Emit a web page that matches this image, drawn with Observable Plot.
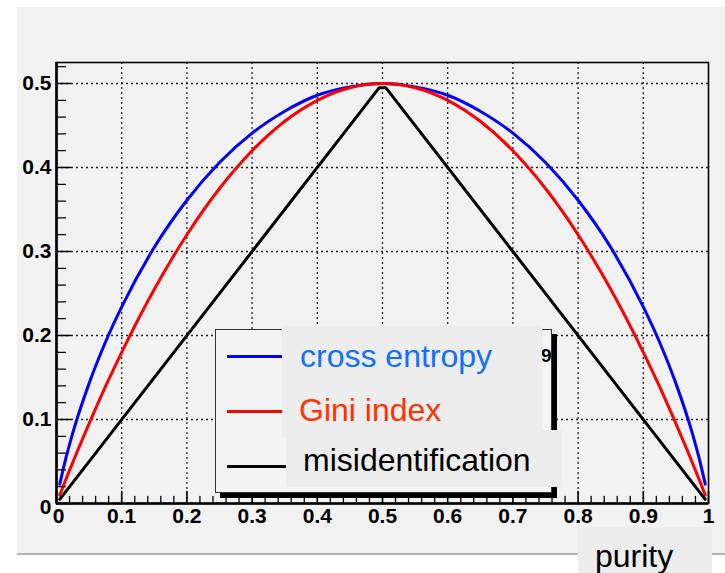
<!DOCTYPE html>
<html><head><meta charset="utf-8">
<script src="https://cdn.jsdelivr.net/npm/d3@7"></script>
<script src="https://cdn.jsdelivr.net/npm/@observablehq/plot@0.6"></script>
<style>
body{margin:0;background:#fff;width:725px;height:573px;overflow:hidden;position:relative;font-family:"Liberation Sans",Arial,sans-serif;}
#bg{position:absolute;left:17px;top:7px;width:708px;height:548px;background:#f2f2f2;border-bottom:2px solid #b4b4b4;box-sizing:border-box;}
#chart{position:absolute;left:17px;top:7px;}
.a{position:absolute;white-space:nowrap;line-height:1;}
</style></head><body>
<div id="bg"></div><div id="chart"></div><div id="overlay"></div>
<script>
// purity sample positions
const purity = [0.005, 0.0125, 0.025, 0.05, 0.075, 0.1, 0.15, 0.2, 0.25, 0.3, 0.35, 0.4, 0.45, 0.5,
  0.55, 0.6, 0.65, 0.7, 0.75, 0.8, 0.85, 0.9, 0.925, 0.95, 0.975, 0.9875, 0.995];
const crossEntropy = [0.023, 0.048, 0.084, 0.143, 0.192, 0.234, 0.305, 0.361, 0.406, 0.441, 0.467, 0.486, 0.496, 0.5,
  0.496, 0.486, 0.467, 0.441, 0.406, 0.361, 0.305, 0.234, 0.192, 0.143, 0.084, 0.048, 0.023];
const giniIndex = [0.010, 0.025, 0.049, 0.095, 0.139, 0.18, 0.255, 0.32, 0.375, 0.42, 0.455, 0.48, 0.495, 0.5,
  0.495, 0.48, 0.455, 0.42, 0.375, 0.32, 0.255, 0.18, 0.139, 0.095, 0.049, 0.025, 0.010];
const misPurity = [0.005, 0.495, 0.505, 0.995];
const misidentification = [0.005, 0.495, 0.495, 0.005];

const xTicks = [0, 0.1, 0.2, 0.3, 0.4, 0.5, 0.6, 0.7, 0.8, 0.9, 1];
const xTickLabels = ["0", "0.1", "0.2", "0.3", "0.4", "0.5", "0.6", "0.7", "0.8", "0.9", "1"];
const yTicks = [0, 0.1, 0.2, 0.3, 0.4, 0.5];
const yTickLabels = ["0", "0.1", "0.2", "0.3", "0.4", "0.5"];
const legendLabels = ["cross entropy", "Gini index", "misidentification"];
const lineColors = ["#0000ff", "#ff0000", "#000000"];
const textColors = ["#1070ff", "#ff3300", "#000000"];
const axisTitle = "purity";

const entropyData = purity.map((p, i) => ({p, v: crossEntropy[i]}));
const giniData = purity.map((p, i) => ({p, v: giniIndex[i]}));
const misData = misPurity.map((p, i) => ({p, v: misidentification[i]}));

const xMinor = d3.range(0, 1.0001, 0.02).filter(v => Math.abs(v * 10 - Math.round(v * 10)) > 1e-6);
const yMinor = d3.range(0, 0.5201, 0.02).filter(v => Math.abs(v * 10 - Math.round(v * 10)) > 1e-6);
const tickShape = {draw(ctx, l) { ctx.moveTo(0, 0); ctx.lineTo(0, -l); }};
const font = "'Liberation Sans', Arial, Helvetica, sans-serif";
const labelStyle = {label: null, fontSize: 21, fontWeight: "bold", fontFamily: font};

const plot = Plot.plot({
  width: 708, height: 548,
  marginLeft: 39, marginRight: 17, marginTop: 55, marginBottom: 52,
  x: {domain: [0, 1]},
  y: {domain: [0, 0.525]},
  style: {background: "transparent", fontFamily: font, fontSize: "21px", fontWeight: "bold", color: "black", overflow: "visible"},
  marks: [
    Plot.gridX({ticks: xTicks.slice(1, -1), stroke: "black", strokeOpacity: 0.85, strokeDasharray: "2,3", strokeWidth: 1.3}),
    Plot.gridY({ticks: yTicks.slice(1), stroke: "black", strokeOpacity: 0.85, strokeDasharray: "2,3", strokeWidth: 1.3}),
    Plot.line(entropyData, {x: "p", y: "v", stroke: lineColors[0], strokeWidth: 3, curve: "monotone-x"}),
    Plot.line(giniData, {x: "p", y: "v", stroke: lineColors[1], strokeWidth: 3, curve: "monotone-x"}),
    Plot.line(misData, {x: "p", y: "v", stroke: lineColors[2], strokeWidth: 3}),
    Plot.frame({stroke: "black", strokeWidth: 1.6}),
    Plot.ruleX([0], {stroke: "black", strokeWidth: 2.6}),
    Plot.ruleY([0], {stroke: "black", strokeWidth: 2.6}),
    Plot.vector(xTicks, {x: d => d, frameAnchor: "bottom", length: 12, anchor: "start", shape: tickShape, stroke: "black", strokeWidth: 1.6}),
    Plot.vector(xMinor, {x: d => d, frameAnchor: "bottom", length: 7, anchor: "start", shape: tickShape, stroke: "black", strokeWidth: 1.3}),
    Plot.vector(yTicks, {y: d => d, frameAnchor: "left", length: 14, rotate: 90, anchor: "start", shape: tickShape, stroke: "black", strokeWidth: 1.6}),
    Plot.vector(yMinor, {y: d => d, frameAnchor: "left", length: 9, rotate: 90, anchor: "start", shape: tickShape, stroke: "black", strokeWidth: 1.3}),
    Plot.axisX({ticks: xTicks.slice(1), tickSize: 0, tickPadding: 5, tickFormat: d => xTickLabels[xTicks.indexOf(d)], ...labelStyle}),
    Plot.axisX({ticks: xTicks.slice(0, 1), tickSize: 0, tickPadding: 5, dx: 2, tickFormat: d => xTickLabels[xTicks.indexOf(d)], ...labelStyle}),
    Plot.axisY({ticks: yTicks.slice(1), tickSize: 0, tickPadding: 5, tickFormat: d => yTickLabels[yTicks.indexOf(d)], ...labelStyle}),
    Plot.axisY({ticks: yTicks.slice(0, 1), tickSize: 0, tickPadding: 5, dy: 4, tickFormat: d => yTickLabels[yTicks.indexOf(d)], ...labelStyle})
  ]
});
document.getElementById("chart").append(plot);

// legend and axis title overlay
const ov = document.getElementById("overlay");
function add(style, text) {
  const d = document.createElement("div");
  d.className = "a";
  Object.assign(d.style, style);
  if (text != null) d.textContent = text;
  ov.append(d);
  return d;
}
add({left: "215px", top: "329px", width: "337px", height: "164px", background: "#f4f4f4", border: "1px solid #333", boxSizing: "border-box", boxShadow: "5px 5px 0 #000"});
add({left: "541px", top: "346px", fontSize: "19px", fontWeight: "bold", color: "#000"}, "9");
const sampleTops = [355, 410, 465];
legendLabels.forEach((l, i) => add({left: "227px", top: sampleTops[i] + "px", width: "62px", height: "3px", background: lineColors[i]}));
add({left: "282px", top: "326px", width: "260px", height: "111px", background: "#ededed"});
add({left: "286px", top: "430px", width: "276px", height: "57px", background: "#ededed"});
const textPos = [[300, 340], [299, 394], [303, 444]];
legendLabels.forEach((l, i) => add({left: textPos[i][0] + "px", top: textPos[i][1] + "px", fontSize: "32px", color: textColors[i]}, l));
add({left: "578px", top: "527px", width: "134px", height: "50px", background: "#ededed"});
add({left: "595px", top: "540px", fontSize: "32px", color: "#000"}, axisTitle);
</script>
</body></html>
